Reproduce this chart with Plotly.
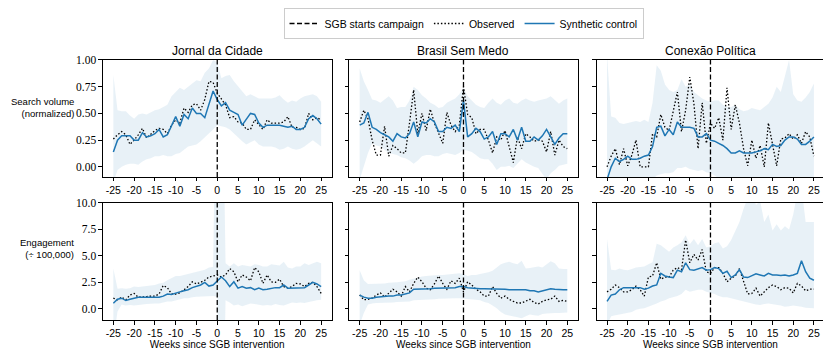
from typing import List
import plotly.graph_objects as go
from plotly.subplots import make_subplots

# Weeks relative to the start of the SGB campaign
weeks = list(range(-25, 26))
intervention_week = 0

outlets = ['Jornal da Cidade', 'Brasil Sem Medo', 'Conexão Política']
metric_labels = ['Search volume<br>(normalized)', 'Engagement<br>(÷ 100,000)']
x_tick_vals = [-25, -20, -15, -10, -5, 0, 5, 10, 15, 20, 25]
x_tick_text = ['-25', '-20', '-15', '-10', '-5', '0', '5', '10', '15', '20', '25']
search_ticks = [0.0, 0.25, 0.5, 0.75, 1.0]
search_tick_text = ['0.00', '0.25', '0.50', '0.75', '1.00']
engage_ticks = [0.0, 2.5, 5.0, 7.5, 10.0]
engage_tick_text = ['0.0', '2.5', '5.0', '7.5', '10.0']

# --- Search volume (normalized) ---
jdc_search_obs = [.26, .30, .33, .30, .21, .25, .30, .36, .27, .31,
                  .34, .36, .35, .31, .39, .44, .41, .55, .51, .58,
                  .59, .53, .63, .80, .79, .69, .63, .58, .46, .47,
                  .42, .41, .35, .35, .44, .39, .35, .44, .41, .41,
                  .41, .42, .47, .37, .37, .35, .36, .50, .44, .46, .44]
jdc_search_syn = [.14, .25, .29, .29, .29, .25, .25, .32, .28, .29,
                  .31, .35, .28, .30, .38, .47, .38, .49, .45, .55,
                  .50, .50, .46, .59, .71, .63, .57, .60, .53, .51,
                  .49, .39, .44, .50, .49, .41, .37, .39, .39, .39,
                  .39, .38, .37, .38, .35, .35, .37, .45, .48, .45, .40]
jdc_search_hi = [.86, .53, .52, .52, .48, .45, .49, .50, .49, .51,
                 .53, .54, .56, .58, .66, .70, .74, .72, .75, .78,
                 .81, .80, .88, .92, 1.0, .98, .83, .85, .86, .80,
                 .75, .70, .66, .68, .66, .64, .64, .64, .64, .65,
                 .67, .63, .60, .62, .61, .64, .66, .67, .68, .66, .61]
jdc_search_lo = [-.15, -.03, .00, .02, .03, .03, .02, .05, .07, .08,
                 .10, .10, .11, .10, .10, .12, .13, .16, .19, .20,
                 .21, .24, .28, .31, .35, .39, .38, .37, .35, .31,
                 .28, .24, .21, .23, .25, .21, .19, .19, .19, .18,
                 .16, .17, .19, .17, .16, .17, .19, .22, .25, .22, .19]

bsm_search_obs = [.42, .53, .45, .25, .11, .11, .38, .10, .20, .17,
                  .13, .13, .41, .72, .31, .50, .34, .54, .41, .31,
                  .22, .51, .39, .33, .39, .75, .49, .46, .31, .35,
                  .35, .25, .13, .28, .25, .34, .19, .04, .28, .17,
                  .31, .28, .24, .25, .24, .14, .33, .11, .25, .19, .17]
bsm_search_syn = [.39, .41, .51, .37, .35, .32, .30, .28, .24, .31,
                  .28, .27, .31, .42, .28, .42, .41, .45, .42, .33,
                  .33, .37, .36, .39, .33, .62, .28, .31, .36, .33,
                  .26, .28, .33, .21, .31, .31, .28, .35, .25, .37,
                  .24, .24, .28, .25, .29, .35, .28, .21, .27, .31, .31]
bsm_search_hi = [.92, .80, .72, .63, .62, .60, .63, .66, .62, .55,
                 .56, .56, .62, .75, .72, .67, .64, .60, .58, .55,
                 .56, .60, .62, .64, .68, .74, .66, .62, .58, .56,
                 .55, .60, .64, .60, .58, .62, .64, .60, .59, .62,
                 .64, .62, .61, .62, .63, .64, .66, .62, .59, .62, .64]
bsm_search_lo = [-.12, .00, .13, .22, .20, .19, .16, .13, .12, .11,
                 .09, .08, .06, .03, .06, .10, .11, .11, .10, .10,
                 .12, .13, .12, .11, .13, .16, .15, .14, .11, .08,
                 .07, .07, .03, -.03, .00, .00, .01, -.01, .03, .07,
                 .04, .02, .00, -.01, -.06, -.12, -.06, -.03, .01, .02, .03]

cp_search_obs = [.00, .10, .17, .02, .17, .01, .11, .25, .00, .00,
                 .00, .31, .28, .49, .37, .34, .52, .70, .33, .53,
                 .84, .59, .17, .60, .22, .41, .36, .46, .25, .74,
                 .35, .58, .41, .17, .01, .25, .08, .20, .00, .41,
                 .21, .01, .26, .27, .31, .26, .30, .22, .33, .28, .10]
cp_search_syn = [-.12, .00, .08, .05, .07, .10, .07, .07, .08, .10,
                 .11, .19, .37, .38, .29, .35, .30, .42, .37, .37,
                 .37, .36, .28, .28, .31, .25, .24, .22, .20, .17,
                 .13, .13, .15, .13, .13, .13, .14, .15, .17, .16,
                 .21, .19, .20, .25, .28, .28, .26, .21, .21, .24, .28]
cp_search_hi = [1.05, .47, .46, .41, .40, .41, .42, .43, .42, .44,
                .42, .60, .95, .90, .77, .72, .70, .72, .82, .75,
                .78, .70, .67, .64, .62, .61, .62, .62, .58, .56,
                .56, .58, .54, .52, .53, .55, .54, .53, .56, .59,
                .65, .75, .70, .85, 1.0, .68, .62, .61, .65, .70, .78]
cp_search_lo = [-.50, -.30, -.25, -.22, -.20, -.20, -.20, -.18, -.17, -.16,
                -.15, -.12, -.08, -.07, -.06, -.06, -.05, -.01, -.01, .00,
                -.02, -.03, -.04, -.03, -.05, -.06, -.08, -.11, -.13, -.15,
                -.18, -.20, -.22, -.22, -.24, -.25, -.25, -.26, -.25, -.24,
                -.25, -.27, -.26, -.28, -.30, -.28, -.27, -.28, -.30, -.30, -.32]

# --- Engagement (/ 100,000) ---
jdc_eng_obs = [1.0, .85, 1.1, .85, 1.3, 1.45, 1.1, 1.1, 1.15, 1.2,
               1.2, 1.4, 2.2, 2.0, 1.4, 1.4, 1.5, 1.8, 2.1, 2.55,
               2.35, 2.5, 2.7, 3.0, 3.1, 3.2, 3.0, 3.2, 3.8, 3.5,
               2.55, 3.2, 3.0, 2.65, 3.9, 3.5, 2.4, 3.2, 2.55, 2.5,
               2.8, 2.1, 1.95, 2.1, 2.4, 2.35, 2.1, 2.4, 2.5, 2.1, 1.45]
jdc_eng_syn = [.53, .9, 1.0, .78, .9, 1.0, 1.1, 1.1, 1.1, 1.15,
               1.15, 1.1, 1.2, 1.4, 1.35, 1.5, 1.6, 1.7, 1.8, 2.0,
               2.15, 2.25, 2.5, 2.15, 2.25, 2.65, 3.0, 2.65, 2.1, 2.55,
               1.95, 2.1, 1.95, 2.0, 1.8, 1.95, 1.8, 1.85, 1.95, 2.0,
               2.0, 2.25, 1.95, 1.95, 2.0, 2.0, 2.0, 2.25, 2.5, 2.35, 2.1]
jdc_eng_hi = [3.8, 1.9, 1.95, 1.9, 1.95, 2.1, 2.05, 2.1, 2.1, 2.2,
              2.25, 2.4, 2.45, 2.7, 2.9, 3.1, 3.1, 3.2, 3.3, 3.4,
              3.5, 3.65, 3.7, 3.9, 3.95, 30.0, 30.0, 4.3, 4.0, 4.3,
              4.0, 4.15, 4.1, 4.0, 4.2, 4.15, 4.0, 4.0, 4.2, 4.15,
              4.1, 4.45, 3.9, 3.8, 4.0, 4.0, 4.3, 4.15, 4.3, 4.45, 4.3]
jdc_eng_lo = [-3.0, -.25, .4, .3, .35, .3, .35, .4, .45, .5,
              .5, .5, .6, .7, .7, .85, .9, 1.0, 1.0, 1.1,
              1.15, 1.2, 1.2, 1.2, 1.2, 1.15, -20.0, .8, .6, .3,
              .4, .25, .4, .5, .45, .4, .3, .35, .3, .45,
              .35, .3, .45, .6, .55, .6, .55, .65, .75, .8, .85]

bsm_eng_obs = [1.3, .85, .9, 1.0, 1.3, 1.5, 1.1, 1.45, 1.85, 1.6,
               1.2, 2.1, 1.6, 2.4, 3.0, 2.55, 1.95, 1.8, 2.35, 3.1,
               2.4, 1.85, 2.65, 2.4, 2.9, 1.6, 2.55, 2.25, 1.85, 1.6,
               1.2, 1.2, 2.1, 1.45, 1.0, 1.2, .9, .7, .55, .55,
               .7, .9, .6, .45, .7, .85, .9, 1.2, .7, .8, .7]
bsm_eng_syn = [1.3, 1.1, 1.0, 1.0, 1.1, 1.15, 1.15, 1.2, 1.2, 1.3,
               1.3, 1.4, 1.5, 1.85, 1.85, 1.85, 1.85, 1.9, 1.95, 1.95,
               2.0, 2.0, 2.0, 2.0, 2.1, 2.1, 2.0, 1.95, 1.95, 1.9,
               1.9, 1.9, 1.9, 1.85, 1.85, 1.85, 1.8, 1.8, 1.8, 1.8,
               1.8, 1.7, 1.7, 1.6, 1.7, 1.8, 1.9, 1.85, 1.8, 1.8, 1.8]
bsm_eng_hi = [3.65, 2.7, 2.35, 2.35, 2.35, 2.4, 2.4, 2.45, 2.45, 2.5,
              2.55, 2.6, 2.75, 2.85, 3.0, 3.05, 3.1, 3.15, 3.2, 3.2,
              3.2, 3.25, 3.3, 3.3, 3.35, 3.3, 3.1, 3.2, 3.2, 3.3,
              3.35, 3.45, 3.6, 3.9, 4.2, 4.35, 4.45, 4.3, 4.2, 4.55,
              3.8, 3.85, 3.95, 4.0, 3.9, 4.2, 4.5, 4.3, 3.8, 3.75, 3.75]
bsm_eng_lo = [-1.5, -.4, .4, .5, .55, .55, .55, .6, .6, .65,
              .7, .7, .7, .8, .85, .85, .85, .88, .9, .95,
              1.0, 1.0, 1.0, 1.0, 1.0, 1.0, .95, .9, .85, .8,
              .65, .55, .3, .05, -.3, -.55, -.6, -.7, -.8, -.9,
              -.7, -.55, -.6, -.65, -.5, -.45, -.4, -.4, -.4, -.4, -.35]

cp_eng_obs = [1.6, 1.85, 2.25, 2.0, 1.6, 1.6, 1.8, 2.15, 1.8, 1.2,
              3.0, 3.1, 4.35, 2.8, 3.0, 3.0, 3.65, 3.9, 3.7, 6.5,
              4.35, 5.15, 4.6, 5.6, 3.5, 3.35, 3.9, 3.9, 3.35, 2.55,
              2.9, 3.1, 3.8, 2.55, 1.4, 1.45, 1.95, 1.2, 1.6, 2.0,
              2.25, 2.1, 1.8, 2.0, 1.95, 1.5, 2.4, 2.15, 1.7, 1.85, 1.85]
cp_eng_syn = [.7, 1.3, 1.4, 1.8, 2.0, 2.0, 2.0, 2.0, 2.0, 1.85,
              1.95, 2.15, 2.25, 3.35, 3.1, 3.0, 2.95, 3.65, 3.5, 4.35,
              3.7, 3.65, 3.8, 3.9, 3.65, 3.7, 3.9, 3.8, 3.35, 3.55,
              2.95, 3.2, 3.7, 3.0, 2.95, 3.1, 3.3, 3.2, 3.1, 3.35,
              3.2, 3.2, 3.15, 3.2, 3.1, 3.2, 3.35, 4.55, 3.5, 2.9, 2.7]
cp_eng_hi = [6.6, 3.7, 3.65, 3.8, 3.7, 3.65, 3.75, 3.9, 3.95, 4.0,
             4.2, 4.4, 6.15, 6.0, 5.7, 5.4, 5.8, 6.0, 6.3, 6.95,
             6.1, 6.6, 6.0, 6.6, 5.8, 5.9, 6.2, 6.3, 5.7, 5.9,
             6.5, 7.3, 8.2, 9.45, 10.5, 11.0, 9.8, 10.2, 8.2, 8.9,
             7.4, 8.0, 7.4, 7.8, 7.5, 8.9, 11.0, 11.5, 8.2, 8.2, 8.2]
cp_eng_lo = [-1.5, -.7, -.6, -.55, -.5, -.4, -.3, -.1, .0, .05,
             .15, .35, .5, .7, .8, 1.0, 1.1, 1.2, 1.4, 1.8,
             1.6, 1.7, 1.8, 1.8, 1.6, 1.5, 1.4, 1.2, 1.1, 1.1,
             1.0, .85, .75, .7, .55, .5, .4, .35, .45, .5,
             .45, .35, .3, .2, .25, .3, .25, .2, .1, .05, .05]

BLUE = '#1f77b4'
BAND = 'rgba(31,119,180,0.1)'
SANS = 'Liberation Sans'
SERIF = 'Liberation Serif'

# The page body adds an 8px margin, so the figure is drawn 8px smaller
W, H = 823, 348

# panel domains (paper coords)
x_domains = [[0.1154, 0.3931], [0.4147, 0.6922], [0.7153, 0.9918]]
y_domains = [[0.5144, 0.8506], [0.1034, 0.4397]]
y_ranges = [[-0.095, 1.0], [-1.06, 10.0]]
label_y = [0.7155, 0.3075]


def add_panel(fig, row: int, col: int, obs: List[float], syn: List[float],
              lo: List[float], hi: List[float], legend: bool) -> None:
    """Band, observed, synthetic and the campaign start line for one panel."""
    fig.add_trace(go.Scatter(x=weeks + weeks[::-1], y=hi + lo[::-1], fill='toself',
                             fillcolor=BAND, line=dict(width=0), mode='lines',
                             hoverinfo='skip', showlegend=False), row=row, col=col)
    fig.add_trace(go.Scatter(x=weeks, y=obs, mode='lines', name='Observed',
                             line=dict(color='black', width=1.3, dash='1.5px,2px'),
                             showlegend=legend, legendrank=2), row=row, col=col)
    fig.add_trace(go.Scatter(x=weeks, y=syn, mode='lines', name='Synthetic control',
                             line=dict(color=BLUE, width=1.5),
                             showlegend=legend, legendrank=3), row=row, col=col)
    # vertical line at the intervention, spanning the axis range
    fig.add_trace(go.Scatter(x=[intervention_week, intervention_week], y=y_ranges[row - 1],
                             mode='lines', name='SGB starts campaign',
                             line=dict(color='black', width=1.3, dash='5px,2.5px'),
                             showlegend=legend, legendrank=1), row=row, col=col)


fig = make_subplots(rows=2, cols=3)

search = [(jdc_search_obs, jdc_search_syn, jdc_search_lo, jdc_search_hi),
          (bsm_search_obs, bsm_search_syn, bsm_search_lo, bsm_search_hi),
          (cp_search_obs, cp_search_syn, cp_search_lo, cp_search_hi)]
engage = [(jdc_eng_obs, jdc_eng_syn, jdc_eng_lo, jdc_eng_hi),
          (bsm_eng_obs, bsm_eng_syn, bsm_eng_lo, bsm_eng_hi),
          (cp_eng_obs, cp_eng_syn, cp_eng_lo, cp_eng_hi)]

for c in range(3):
    add_panel(fig, 1, c + 1, *search[c], legend=(c == 0))
    add_panel(fig, 2, c + 1, *engage[c], legend=False)

axis_style = dict(showline=True, mirror=True, linecolor='black', linewidth=1,
                  ticks='outside', ticklen=3.5, tickwidth=0.8, tickcolor='black',
                  showgrid=False, zeroline=False, automargin=False)

for r in range(2):
    for c in range(3):
        fig.update_xaxes(axis_style, domain=x_domains[c], range=[-27.5, 27.5],
                         tickvals=x_tick_vals, ticktext=x_tick_text,
                         tickfont=dict(family=SANS, size=10.5, color='black'),
                         row=r + 1, col=c + 1)
        fig.update_yaxes(axis_style, domain=y_domains[r], range=y_ranges[r],
                         tickvals=search_ticks if r == 0 else engage_ticks,
                         ticktext=search_tick_text if r == 0 else engage_tick_text,
                         showticklabels=(c == 0),
                         tickfont=dict(family=SERIF, size=11.5, color='black'),
                         row=r + 1, col=c + 1)
        if r == 1:
            fig.update_xaxes(title=dict(text='Weeks since SGB intervention', standoff=0,
                                        font=dict(family=SANS, size=10, color='black')),
                             row=r + 1, col=c + 1)

# Panel titles and row labels
for c, name in enumerate(outlets):
    fig.add_annotation(text=name, xref='paper', yref='paper',
                       x=sum(x_domains[c]) / 2, y=y_domains[0][1], yshift=9,
                       xanchor='center', yanchor='middle', showarrow=False,
                       font=dict(family=SANS, size=12, color='black'))
for r, label in enumerate(metric_labels):
    fig.add_annotation(text=label, xref='paper', yref='paper', x=67 / W,
                       y=label_y[r], xanchor='right', yanchor='middle',
                       align='right', showarrow=False, borderpad=0,
                       font=dict(family=SANS, size=9.5, color='black'))

fig.update_layout(width=W, height=H, margin=dict(l=0, r=0, t=0, b=0),
                  plot_bgcolor='white', paper_bgcolor='white',
                  font=dict(family=SANS, size=11, color='black'),
                  legend=dict(orientation='h', x=0.5535, xanchor='center', y=1.0, yanchor='top',
                              bordercolor='#cccccc', borderwidth=1, itemwidth=30,
                              font=dict(family=SANS, size=10.5, color='black'),
                              traceorder='normal'))

fig.write_html("out.html")
